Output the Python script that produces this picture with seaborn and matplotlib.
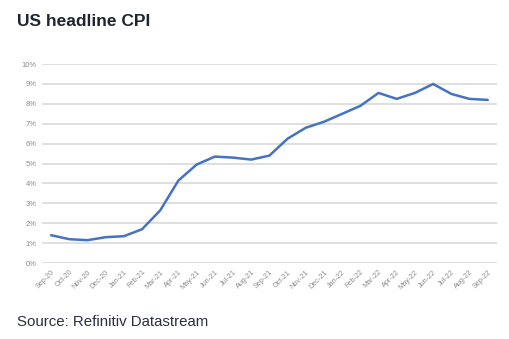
import matplotlib
matplotlib.use("Agg")
import matplotlib.pyplot as plt
import seaborn as sns
import pandas as pd

months = ["Sep-20", "Oct-20", "Nov-20", "Dec-20", "Jan-21", "Feb-21", "Mar-21",
          "Apr-21", "May-21", "Jun-21", "Jul-21", "Aug-21", "Sep-21", "Oct-21",
          "Nov-21", "Dec-21", "Jan-22", "Feb-22", "Mar-22", "Apr-22", "May-22",
          "Jun-22", "Jul-22", "Aug-22", "Sep-22"]
cpi = [1.4, 1.2, 1.15, 1.3, 1.35, 1.7, 2.65, 4.15, 4.95, 5.35, 5.3, 5.2, 5.4,
       6.25, 6.8, 7.1, 7.5, 7.9, 8.55, 8.25, 8.55, 9.0, 8.5, 8.25, 8.2]
y_ticks = list(range(0, 11))

df = pd.DataFrame({"month": months, "cpi": cpi, "pos": range(len(months))})

sns.set_theme(style="white")
plt.rcParams["font.family"] = ["Liberation Sans", "DejaVu Sans"]

fig = plt.figure(figsize=(5.09, 3.39), dpi=100)
ax = fig.add_axes([0.0825, 0.224, 0.8935, 0.587])

sns.lineplot(data=df, x="pos", y="cpi", color="#4472C4", linewidth=1.8, ax=ax)

ax.set_xlim(-0.5, len(months) - 0.5)
ax.set_ylim(0, 10)
ax.set_yticks(y_ticks)
ax.set_yticklabels([f"{v}%" for v in y_ticks], fontsize=5.5, color="#8C8C8C")
ax.set_xticks(df["pos"])
ax.set_xticklabels(months, rotation=45, ha="right", rotation_mode="anchor",
                   fontsize=5.2, color="#8C8C8C")
ax.tick_params(axis="both", length=0, pad=4)
ax.yaxis.grid(True, color="#DCDCDC", linewidth=1.3)
ax.set_axisbelow(True)
for s in ax.spines.values():
    s.set_visible(False)
ax.set_xlabel("")
ax.set_ylabel("")

fig.text(0.033, 0.937, "US headline CPI", fontsize=12.5, fontweight="bold",
         color="#1F2433", va="center", ha="left")
fig.text(0.033, 0.05, "Source: Refinitiv Datastream", fontsize=10.8,
         color="#2B2F3E", va="center", ha="left")

fig.savefig("out.png", dpi=100, facecolor="white")
